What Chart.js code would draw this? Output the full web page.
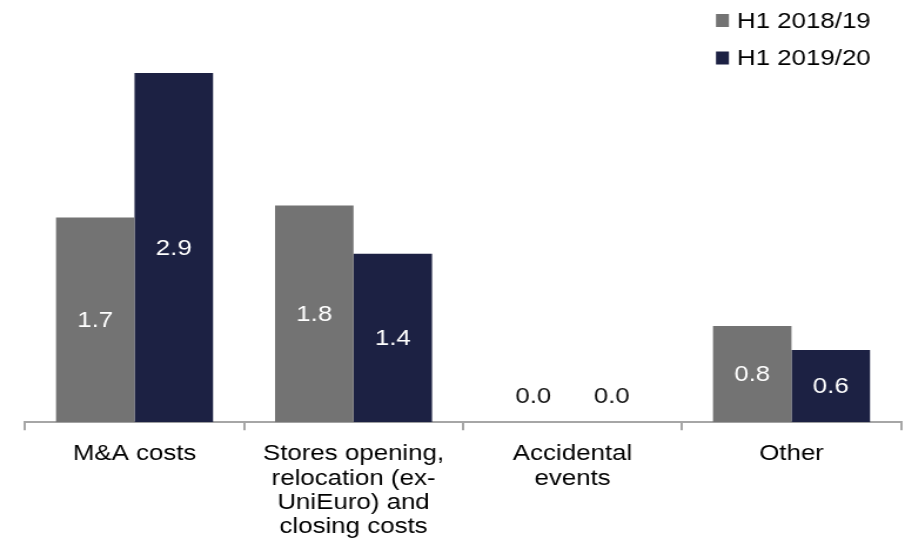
<!DOCTYPE html>
<html>
<head>
<meta charset="utf-8">
<script src="https://cdn.jsdelivr.net/npm/chart.js@4"></script>
<style>
  html, body { margin: 0; padding: 0; background: #fff; }
  /* drawn at 776px wide, stretched to fill the 912px page */
  #chart { display: block; transform: scaleX(1.1753); transform-origin: 0 0; }
</style>
</head>
<body>
<canvas id="chart" width="776" height="560"></canvas>
<script>
const categories = [
  'M&A costs',
  ['Stores opening,', 'relocation (ex-', 'UniEuro) and', 'closing costs'],
  ['Accidental', 'events'],
  'Other'
];
const seriesNames = ['H1 2018/19', 'H1 2019/20'];
const h1_2018 = [1.7, 1.8, 0.0, 0.8];
const h1_2019 = [2.9, 1.4, 0.0, 0.6];
const colors = ['#737373', '#1c2143'];

const FONT = 'Liberation Sans, Arial, sans-serif';

// value labels: white in the middle of the bar, dark just above the axis for zeros
const barLabels = {
  id: 'barLabels',
  afterDatasetsDraw(chart) {
    const ctx = chart.ctx;
    ctx.save();
    ctx.font = '22px ' + FONT;
    ctx.textAlign = 'center';
    ctx.textBaseline = 'middle';
    chart.data.datasets.forEach((ds, i) => {
      chart.getDatasetMeta(i).data.forEach((bar, j) => {
        const v = ds.data[j];
        const txt = v.toFixed(1);
        if (v > 0) {
          ctx.fillStyle = '#ffffff';
          ctx.fillText(txt, bar.x, (bar.y + bar.base) / 2 + 1);
        } else {
          ctx.fillStyle = '#111111';
          ctx.fillText(txt, bar.x, bar.base - 25);
        }
      });
    });
    ctx.restore();
  }
};

// stacked legend in the top right corner
const cornerLegend = {
  id: 'cornerLegend',
  afterDraw(chart) {
    const ctx = chart.ctx;
    const rows = [20.5, 58];
    ctx.save();
    ctx.font = '22px ' + FONT;
    ctx.textBaseline = 'middle';
    ctx.textAlign = 'left';
    chart.data.datasets.forEach((ds, i) => {
      const y = rows[i];
      ctx.fillStyle = ds.backgroundColor;
      ctx.fillRect(609.2, y - 6.5, 11, 13);
      ctx.fillStyle = '#000000';
      ctx.fillText(ds.label, 627.1, y + 1);
    });
    ctx.restore();
  }
};

new Chart(document.getElementById('chart'), {
  type: 'bar',
  data: {
    labels: categories,
    datasets: [
      { label: seriesNames[0], data: h1_2018, backgroundColor: colors[0] },
      { label: seriesNames[1], data: h1_2019, backgroundColor: colors[1] }
    ]
  },
  options: {
    responsive: false,
    animation: false,
    layout: { padding: { left: 21.3, right: 9.4, top: 61, bottom: 9 } },
    datasets: {
      bar: { categoryPercentage: 0.717, barPercentage: 1.0 }
    },
    plugins: {
      legend: { display: false },
      tooltip: { enabled: false }
    },
    scales: {
      x: {
        grid: {
          offset: true,
          drawOnChartArea: false,
          drawTicks: true,
          tickLength: 8,
          color: '#a6a6a6',
          lineWidth: 2
        },
        border: { display: true, color: '#a6a6a6', width: 2 },
        ticks: {
          color: '#000000',
          padding: 12,
          maxRotation: 0,
          autoSkip: false,
          font: { family: FONT, size: 22, lineHeight: 1.1 }
        }
      },
      y: {
        display: false,
        min: 0,
        max: 3.0
      }
    }
  },
  plugins: [barLabels, cornerLegend]
});
</script>
</body>
</html>
